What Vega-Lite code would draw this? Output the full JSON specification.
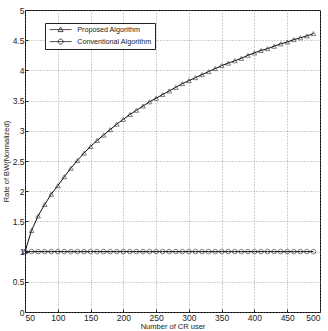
{
  "$schema": "https://vega.github.io/schema/vega-lite/v6.json",
  "autosize": "none",
  "width": 295,
  "height": 302,
  "padding": {"left": 25, "top": 10, "right": 8, "bottom": 19},
  "background": "white",
  "config": {
    "font": "Liberation Sans",
    "view": {"stroke": "black", "strokeWidth": 1},
    "axis": {
      "labelFont": "Liberation Sans",
      "labelFontSize": 8.5,
      "labelColor": "#222",
      "titleFont": "Liberation Sans",
      "titleFontSize": 7.5,
      "titleFontWeight": "normal",
      "titleColor": "#222",
      "domain": false,
      "tickColor": "#222",
      "tickSize": -3,
      "gridColor": "#888",
      "gridDash": [1, 2],
      "gridWidth": 0.8,
      "gridOpacity": 1
    }
  },
  "datasets": {
    "curves": [
      {"users": 50, "series": "Proposed Algorithm", "rate": 1.00},
      {"users": 60, "series": "Proposed Algorithm", "rate": 1.35},
      {"users": 70, "series": "Proposed Algorithm", "rate": 1.59},
      {"users": 80, "series": "Proposed Algorithm", "rate": 1.78},
      {"users": 90, "series": "Proposed Algorithm", "rate": 1.95},
      {"users": 100, "series": "Proposed Algorithm", "rate": 2.09},
      {"users": 110, "series": "Proposed Algorithm", "rate": 2.24},
      {"users": 120, "series": "Proposed Algorithm", "rate": 2.38},
      {"users": 130, "series": "Proposed Algorithm", "rate": 2.51},
      {"users": 140, "series": "Proposed Algorithm", "rate": 2.63},
      {"users": 150, "series": "Proposed Algorithm", "rate": 2.74},
      {"users": 160, "series": "Proposed Algorithm", "rate": 2.84},
      {"users": 170, "series": "Proposed Algorithm", "rate": 2.93},
      {"users": 180, "series": "Proposed Algorithm", "rate": 3.02},
      {"users": 190, "series": "Proposed Algorithm", "rate": 3.11},
      {"users": 200, "series": "Proposed Algorithm", "rate": 3.19},
      {"users": 210, "series": "Proposed Algorithm", "rate": 3.27},
      {"users": 220, "series": "Proposed Algorithm", "rate": 3.34},
      {"users": 230, "series": "Proposed Algorithm", "rate": 3.41},
      {"users": 240, "series": "Proposed Algorithm", "rate": 3.48},
      {"users": 250, "series": "Proposed Algorithm", "rate": 3.54},
      {"users": 260, "series": "Proposed Algorithm", "rate": 3.60},
      {"users": 270, "series": "Proposed Algorithm", "rate": 3.66},
      {"users": 280, "series": "Proposed Algorithm", "rate": 3.72},
      {"users": 290, "series": "Proposed Algorithm", "rate": 3.78},
      {"users": 300, "series": "Proposed Algorithm", "rate": 3.83},
      {"users": 310, "series": "Proposed Algorithm", "rate": 3.88},
      {"users": 320, "series": "Proposed Algorithm", "rate": 3.93},
      {"users": 330, "series": "Proposed Algorithm", "rate": 3.98},
      {"users": 340, "series": "Proposed Algorithm", "rate": 4.03},
      {"users": 350, "series": "Proposed Algorithm", "rate": 4.08},
      {"users": 360, "series": "Proposed Algorithm", "rate": 4.12},
      {"users": 370, "series": "Proposed Algorithm", "rate": 4.16},
      {"users": 380, "series": "Proposed Algorithm", "rate": 4.20},
      {"users": 390, "series": "Proposed Algorithm", "rate": 4.25},
      {"users": 400, "series": "Proposed Algorithm", "rate": 4.29},
      {"users": 410, "series": "Proposed Algorithm", "rate": 4.33},
      {"users": 420, "series": "Proposed Algorithm", "rate": 4.36},
      {"users": 430, "series": "Proposed Algorithm", "rate": 4.40},
      {"users": 440, "series": "Proposed Algorithm", "rate": 4.44},
      {"users": 450, "series": "Proposed Algorithm", "rate": 4.47},
      {"users": 460, "series": "Proposed Algorithm", "rate": 4.51},
      {"users": 470, "series": "Proposed Algorithm", "rate": 4.54},
      {"users": 480, "series": "Proposed Algorithm", "rate": 4.57},
      {"users": 490, "series": "Proposed Algorithm", "rate": 4.61},
      {"users": 50, "series": "Conventional Algorithm", "rate": 1},
      {"users": 60, "series": "Conventional Algorithm", "rate": 1},
      {"users": 70, "series": "Conventional Algorithm", "rate": 1},
      {"users": 80, "series": "Conventional Algorithm", "rate": 1},
      {"users": 90, "series": "Conventional Algorithm", "rate": 1},
      {"users": 100, "series": "Conventional Algorithm", "rate": 1},
      {"users": 110, "series": "Conventional Algorithm", "rate": 1},
      {"users": 120, "series": "Conventional Algorithm", "rate": 1},
      {"users": 130, "series": "Conventional Algorithm", "rate": 1},
      {"users": 140, "series": "Conventional Algorithm", "rate": 1},
      {"users": 150, "series": "Conventional Algorithm", "rate": 1},
      {"users": 160, "series": "Conventional Algorithm", "rate": 1},
      {"users": 170, "series": "Conventional Algorithm", "rate": 1},
      {"users": 180, "series": "Conventional Algorithm", "rate": 1},
      {"users": 190, "series": "Conventional Algorithm", "rate": 1},
      {"users": 200, "series": "Conventional Algorithm", "rate": 1},
      {"users": 210, "series": "Conventional Algorithm", "rate": 1},
      {"users": 220, "series": "Conventional Algorithm", "rate": 1},
      {"users": 230, "series": "Conventional Algorithm", "rate": 1},
      {"users": 240, "series": "Conventional Algorithm", "rate": 1},
      {"users": 250, "series": "Conventional Algorithm", "rate": 1},
      {"users": 260, "series": "Conventional Algorithm", "rate": 1},
      {"users": 270, "series": "Conventional Algorithm", "rate": 1},
      {"users": 280, "series": "Conventional Algorithm", "rate": 1},
      {"users": 290, "series": "Conventional Algorithm", "rate": 1},
      {"users": 300, "series": "Conventional Algorithm", "rate": 1},
      {"users": 310, "series": "Conventional Algorithm", "rate": 1},
      {"users": 320, "series": "Conventional Algorithm", "rate": 1},
      {"users": 330, "series": "Conventional Algorithm", "rate": 1},
      {"users": 340, "series": "Conventional Algorithm", "rate": 1},
      {"users": 350, "series": "Conventional Algorithm", "rate": 1},
      {"users": 360, "series": "Conventional Algorithm", "rate": 1},
      {"users": 370, "series": "Conventional Algorithm", "rate": 1},
      {"users": 380, "series": "Conventional Algorithm", "rate": 1},
      {"users": 390, "series": "Conventional Algorithm", "rate": 1},
      {"users": 400, "series": "Conventional Algorithm", "rate": 1},
      {"users": 410, "series": "Conventional Algorithm", "rate": 1},
      {"users": 420, "series": "Conventional Algorithm", "rate": 1},
      {"users": 430, "series": "Conventional Algorithm", "rate": 1},
      {"users": 440, "series": "Conventional Algorithm", "rate": 1},
      {"users": 450, "series": "Conventional Algorithm", "rate": 1},
      {"users": 460, "series": "Conventional Algorithm", "rate": 1},
      {"users": 470, "series": "Conventional Algorithm", "rate": 1},
      {"users": 480, "series": "Conventional Algorithm", "rate": 1},
      {"users": 490, "series": "Conventional Algorithm", "rate": 1}
    ]
  },
  "data": {"name": "curves"},
  "encoding": {
    "x": {
      "field": "users", "type": "quantitative",
      "scale": {"domain": [50, 500], "nice": false, "zero": false},
      "axis": {"values": [50,100,150,200,250,300,350,400,450,500], "title": "Number of CR user", "titlePadding": 1, "labelPadding": 4}
    },
    "y": {
      "field": "rate", "type": "quantitative",
      "scale": {"domain": [0, 5], "nice": false},
      "axis": {"values": [0,0.5,1,1.5,2,2.5,3,3.5,4,4.5,5], "format": "~g", "title": "Rate of BW(Normalized)", "titlePadding": 2, "labelPadding": 4}
    }
  },
  "layer": [
    {
      "mark": {"type": "line", "color": "#111", "strokeWidth": 1},
      "encoding": {"detail": {"field": "series"}}
    },
    {
      "mark": {"type": "point", "filled": false, "stroke": "#222", "strokeWidth": 0.8, "size": 22},
      "encoding": {
        "shape": {
          "field": "series", "type": "nominal",
          "scale": {"domain": ["Proposed Algorithm", "Conventional Algorithm"], "range": ["triangle-up", "circle"]},
          "legend": null
        }
      }
    },
    {
      "transform": [{"filter": "false"}],
      "mark": {"type": "point", "filled": false, "stroke": "#222", "strokeWidth": 0.8, "size": 25},
      "encoding": {
        "shape": {
          "field": "series", "type": "nominal",
          "scale": {"domain": ["Proposed Algorithm", "Conventional Algorithm"],
                    "range": ["M-4.4,0H4.4M0,-1L1,0.8L-1,0.8Z", "M-4.4,0H4.4M1,0A1,1,0,1,1,-1,0A1,1,0,1,1,1,0Z"]},
          "legend": {
            "title": null,
            "orient": "none",
            "legendX": 20,
            "legendY": 13,
            "fillColor": "white",
            "strokeColor": "#222",
            "padding": 3,
            "symbolSize": 25,
            "symbolOffset": 9,
            "symbolStrokeColor": "#222",
            "symbolStrokeWidth": 0.8,
            "symbolFillColor": "transparent",
            "symbolOpacity": 1,
            "labelOffset": 13,
            "labelFont": "Liberation Sans",
            "labelFontSize": 7.2,
            "labelColor": "#222",
            "rowPadding": 3
          }
        }
      }
    }
  ],
  "resolve": {"scale": {"shape": "independent"}}
}
